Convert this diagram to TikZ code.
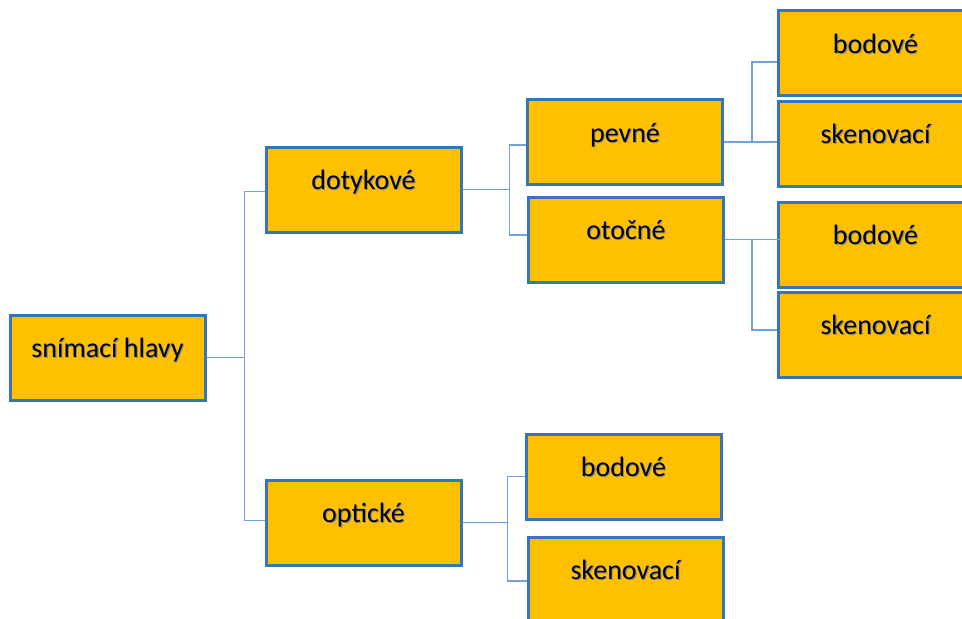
\documentclass[tikz,border=0pt]{standalone}
\usepackage{fontspec}
\setmainfont{Carlito}
\definecolor{boxfill}{HTML}{FFC000}
\definecolor{boxedge}{HTML}{3575B8}
\definecolor{wire}{HTML}{6FA3DA}
% text with a soft drop shadow
\newcommand{\shadowtxt}[1]{\rlap{\hspace{1.1pt}\raisebox{-1.1pt}{\textcolor{black!45}{#1}}}#1}
\tikzset{
  catbox/.style={rectangle, draw=boxedge, line width=3pt, fill=boxfill,
    minimum width=195pt, minimum height=85pt, inner sep=0pt,
    font=\fontsize{28}{30}\selectfont, text height=0.5em, text depth=0.5em},
  wireline/.style={draw=wire, line width=1.5pt}
}
\begin{document}
\begin{tikzpicture}[x=1pt, y=-1pt]
\useasboundingbox (0,0) rectangle (962,619);
\clip (0,0) rectangle (962,619);

% boxes
\node[catbox] (root) at (107.5,357.5) {\shadowtxt{snímací hlavy}};
\node[catbox] (dot)  at (363.5,189.5) {\shadowtxt{dotykové}};
\node[catbox] (opt)  at (363.5,522.5) {\shadowtxt{optické}};
\node[catbox] (pev)  at (625,142)     {\shadowtxt{pevné}};
\node[catbox] (oto)  at (626,239.5)   {\shadowtxt{otočné}};
\node[catbox] (pb)   at (875.5,53)    {\shadowtxt{bodové}};
\node[catbox] (ps)   at (875.5,143.5) {\shadowtxt{skenovací}};
\node[catbox] (ob)   at (875.5,244.5) {\shadowtxt{bodové}};
\node[catbox] (os)   at (875.5,334.5) {\shadowtxt{skenovací}};
\node[catbox] (qb)   at (623.5,476.5) {\shadowtxt{bodové}};
\node[catbox] (qs)   at (625.5,579.5) {\shadowtxt{skenovací}};

% connectors
\draw[wireline] (root.east) -- ++(38,0) |- ([yshift=-2]dot.west);
\draw[wireline] (root.east) -- ++(38,0) |- ([yshift=2]opt.west);

\draw[wireline] (dot.east) -- ++(47,0) |- ([yshift=-3]pev.west);
\draw[wireline] (dot.east) -- ++(47,0) |- ([yshift=4.5]oto.west);

\draw[wireline] (pev.east) -- (pev.east -| ps.west);
\draw[wireline] ([xshift=28]pev.east) |- ([yshift=-9]pb.west);

\draw[wireline] (oto.east) -- ++(55,0);
\draw[wireline] ([xshift=27]oto.east) |- ([yshift=4.5]os.west);

\draw[wireline] (opt.east) -- ++(45,0) |- (qb.west);
\draw[wireline] (opt.east) -- ++(45,0) |- ([yshift=-1.5]qs.west);
\end{tikzpicture}
\end{document}
